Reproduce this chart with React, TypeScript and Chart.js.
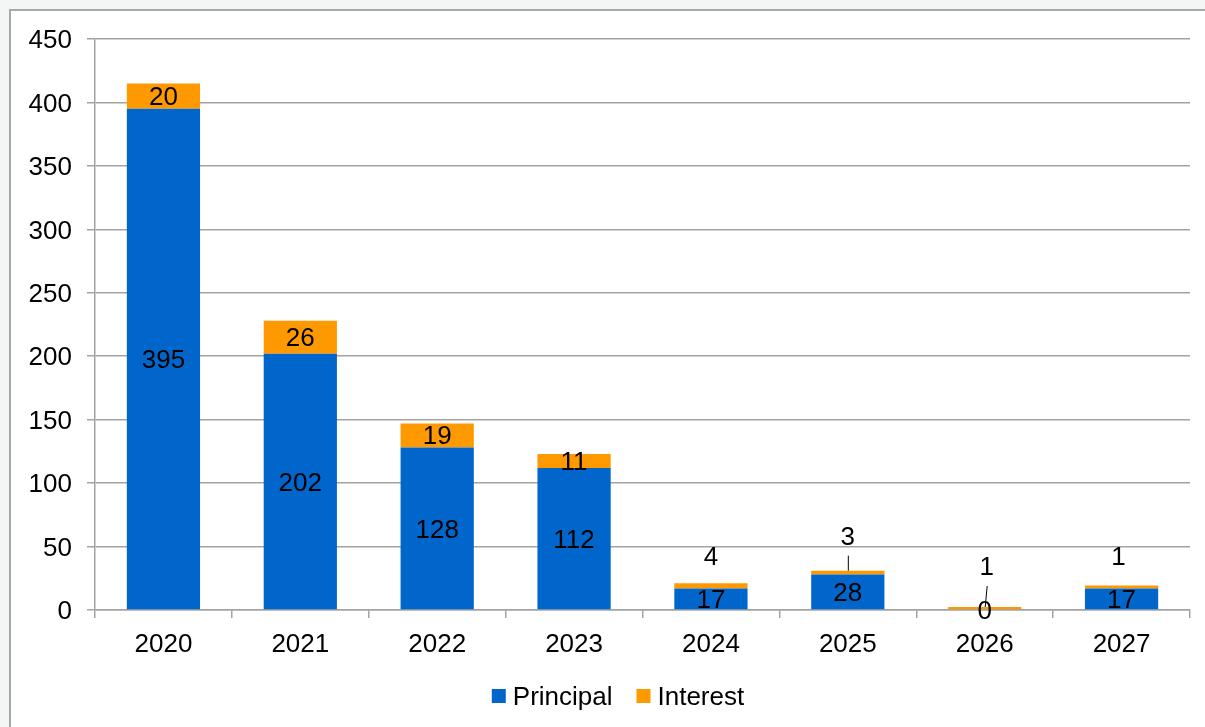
import React, { useEffect, useRef } from "react";
import { Chart, registerables } from "chart.js";

Chart.register(...registerables);

// ---- data ----
const years = ["2020", "2021", "2022", "2023", "2024", "2025", "2026", "2027"];
const principal = [395, 202, 128, 112, 17, 28, 0, 17];
const interest = [20, 26, 19, 11, 4, 3, 1, 1];
const yMin = 0;
const yMax = 450;
const yStep = 50;

// ---- label placement for small interest segments (px above the bar top) ----
const interestLift = [0, 0, 0, 0, 27, 34, 40, 29];
const interestLeader = [false, false, false, false, false, true, true, false];
const interestShiftX = [0, 0, 0, 0, 0, 0, 2, -3];

const FONT = '"Liberation Sans", Arial, sans-serif';
const BLUE = "#0066CC";
const ORANGE = "#FF9900";
const GRID = "#a3a3a3";

const dataLabels = {
  id: "dataLabels",
  afterDatasetsDraw(chart: any) {
    const ctx = chart.ctx;
    ctx.save();
    ctx.font = `26px ${FONT}`;
    ctx.fillStyle = "#000";
    ctx.strokeStyle = "#000";
    ctx.lineWidth = 1;
    ctx.textAlign = "center";
    ctx.textBaseline = "middle";
    const pMeta = chart.getDatasetMeta(0);
    pMeta.data.forEach((el: any, i: number) => {
      const { x, y, base } = el.getProps(["x", "y", "base"], true);
      ctx.fillText(String(principal[i]), x, (y + base) / 2 + 2);
    });
    const iMeta = chart.getDatasetMeta(1);
    iMeta.data.forEach((el: any, i: number) => {
      const { x, y, base } = el.getProps(["x", "y", "base"], true);
      const lift = interestLift[i];
      if (!lift) {
        ctx.fillText(String(interest[i]), x, (y + base) / 2 + 1.5);
      } else {
        const lx = x + interestShiftX[i];
        const ly = y - lift;
        ctx.fillText(String(interest[i]), lx, ly + 1);
        if (interestLeader[i]) {
          ctx.beginPath();
          ctx.moveTo(lx + 0.5, ly + 19);
          ctx.lineTo(x + 0.5, y);
          ctx.stroke();
        }
      }
    });
    ctx.restore();
  },
};

// simple legend drawn from the chart's datasets (box, small gap, label)
const bottomLegend = {
  id: "bottomLegend",
  afterDraw(chart: any) {
    const ctx = chart.ctx;
    ctx.save();
    ctx.font = `26px ${FONT}`;
    ctx.textBaseline = "middle";
    ctx.textAlign = "left";
    const box = 14;
    const gap = 7;
    const itemGap = 24;
    const items = chart.data.datasets.map((d: any) => ({
      label: d.label,
      color: d.backgroundColor,
      w: ctx.measureText(d.label).width,
    }));
    const total =
      items.reduce((s: number, it: any) => s + box + gap + it.w, 0) +
      itemGap * (items.length - 1);
    const cx = 618;
    const cy = chart.height - 31;
    let x = cx - total / 2;
    items.forEach((it: any) => {
      ctx.fillStyle = it.color;
      ctx.fillRect(x, cy - 7, box, box);
      ctx.fillStyle = "#000";
      ctx.fillText(it.label, x + box + gap, cy + 2);
      x += box + gap + it.w + itemGap;
    });
    ctx.restore();
  },
};

export default function App() {
  const canvasRef = useRef<HTMLCanvasElement | null>(null);

  useEffect(() => {
    if (!canvasRef.current) return;
    const chart = new Chart(canvasRef.current, {
      type: "bar",
      data: {
        labels: years,
        datasets: [
          {
            label: "Principal",
            data: principal,
            backgroundColor: BLUE,
            borderWidth: 0,
            barPercentage: 0.535,
            categoryPercentage: 1,
          },
          {
            label: "Interest",
            data: interest,
            backgroundColor: ORANGE,
            borderWidth: 0,
            barPercentage: 0.535,
            categoryPercentage: 1,
            minBarLength: 3,
          },
        ],
      },
      options: {
        animation: false,
        responsive: false,
        devicePixelRatio: 1,
        layout: { padding: { left: 10, right: 15, top: 39, bottom: 62 } },
        plugins: {
          legend: { display: false },
          tooltip: { enabled: false },
        },
        scales: {
          x: {
            stacked: true,
            grid: {
              drawOnChartArea: false,
              drawTicks: true,
              tickLength: 8,
              color: GRID,
              lineWidth: 1.5,
              offset: true,
            },
            border: { color: GRID, width: 1.5 },
            ticks: { color: "#000", font: { size: 26, family: FONT }, padding: 11 },
            afterFit: (s: any) => {
              s.height = 55;
            },
          },
          y: {
            stacked: true,
            min: yMin,
            max: yMax,
            ticks: {
              stepSize: yStep,
              color: "#000",
              font: { size: 26, family: FONT },
              padding: 15,
              labelOffset: 2,
            },
            grid: { color: GRID, lineWidth: 1.5, tickLength: 8 },
            border: { color: GRID, width: 1.5 },
            afterFit: (s: any) => {
              s.width = 85;
            },
          },
        },
      },
      plugins: [dataLabels, bottomLegend],
    } as any);
    return () => chart.destroy();
  }, []);

  return (
    <div
      style={{
        position: "fixed",
        left: 0,
        top: 0,
        width: 1205,
        height: 727,
        overflow: "hidden",
        background: "#f4f6f6",
      }}
    >
      <div
        style={{
          position: "absolute",
          left: 9,
          top: 9,
          width: 1300,
          height: 800,
          border: "2px solid #a8a8a8",
          background: "#ffffff",
        }}
      />
      <canvas
        ref={canvasRef}
        width={1205}
        height={727}
        style={{ position: "absolute", left: 0, top: 0, width: 1205, height: 727 }}
      />
    </div>
  );
}
